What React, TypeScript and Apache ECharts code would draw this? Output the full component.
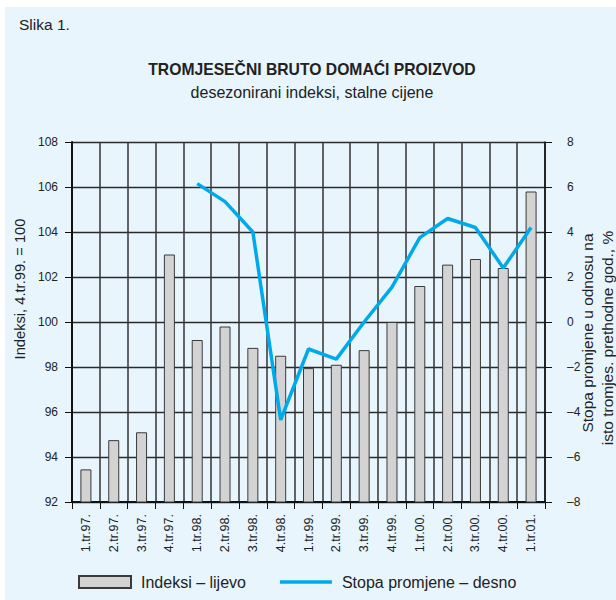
import React, { useEffect, useRef } from "react";
import * as echarts from "echarts";

const categories = [
  "1.tr.97.", "2.tr.97.", "3.tr.97.", "4.tr.97.",
  "1.tr.98.", "2.tr.98.", "3.tr.98.", "4.tr.98.",
  "1.tr.99.", "2.tr.99.", "3.tr.99.", "4.tr.99.",
  "1.tr.00.", "2.tr.00.", "3.tr.00.", "4.tr.00.",
  "1.tr.01.",
];

const indeksi = [
  93.45, 94.75, 95.1, 103.0,
  99.2, 99.8, 98.85, 98.5,
  97.95, 98.1, 98.75, 100.0,
  101.6, 102.55, 102.8, 102.4,
  105.8,
];

const stopa: (number | null)[] = [
  null, null, null, null,
  6.15, 5.35, 4.0, -4.35,
  -1.2, -1.65, 0.0, 1.55,
  3.75, 4.6, 4.2, 2.4,
  4.2,
];

const leftTicks = { min: 92, max: 108, interval: 2 };
const rightTicks = { min: -8, max: 8, interval: 2 };

const FONT = "'Liberation Sans', Arial, Helvetica, sans-serif";
const TEXT = "#222222";

export default function App() {
  const ref = useRef<HTMLDivElement>(null);

  useEffect(() => {
    if (!ref.current) return;
    const chart = echarts.init(ref.current, null, { renderer: "svg" });
    chart.setOption({
      animation: false,
      backgroundColor: "#ffffff",
      textStyle: { fontFamily: FONT, color: TEXT },
      graphic: [
        {
          type: "rect",
          z: -100,
          silent: true,
          shape: { x: 5, y: 7, width: 611, height: 593 },
          style: { fill: "#e8f5fd" },
        },
        {
          type: "text",
          x: 19,
          y: 24,
          style: {
            text: "Slika 1.",
            fontFamily: FONT,
            fontSize: 15.5,
            fill: TEXT,
            textAlign: "left",
            textVerticalAlign: "middle",
          },
        },
        {
          type: "text",
          x: 312,
          y: 69,
          style: {
            text: "TROMJESEČNI BRUTO DOMAĆI PROIZVOD",
            fontFamily: FONT,
            fontSize: 15.7,
            fontWeight: "bold",
            fill: TEXT,
            textAlign: "center",
            textVerticalAlign: "middle",
          },
        },
        {
          type: "text",
          x: 312,
          y: 92,
          style: {
            text: "desezonirani indeksi, stalne cijene",
            fontFamily: FONT,
            fontSize: 16,
            fill: TEXT,
            textAlign: "center",
            textVerticalAlign: "middle",
          },
        },
        {
          type: "text",
          x: 20,
          y: 289,
          rotation: Math.PI / 2,
          style: {
            text: "Indeksi, 4.tr.99. = 100",
            fontFamily: FONT,
            fontSize: 14.7,
            fill: TEXT,
            textAlign: "center",
            textVerticalAlign: "middle",
          },
        },
        {
          type: "text",
          x: 587,
          y: 333,
          rotation: Math.PI / 2,
          style: {
            text: "Stopa promjene u odnosu na",
            fontFamily: FONT,
            fontSize: 15.5,
            fill: TEXT,
            textAlign: "center",
            textVerticalAlign: "middle",
          },
        },
        {
          type: "text",
          x: 607,
          y: 338,
          rotation: Math.PI / 2,
          style: {
            text: "isto tromjes. prethodne god., %",
            fontFamily: FONT,
            fontSize: 15.5,
            fill: TEXT,
            textAlign: "center",
            textVerticalAlign: "middle",
          },
        },
      ],
      legend: {
        left: 73,
        top: 569,
        itemWidth: 52,
        itemHeight: 12,
        itemGap: 34,
        textStyle: {
          fontFamily: FONT,
          fontSize: 16,
          color: TEXT,
          padding: [0, 0, 0, 5],
        },
        data: [
          { name: "Indeksi – lijevo", icon: "rect" },
          { name: "Stopa promjene – desno", icon: "path://M0,0 L52,0 L52,3.5 L0,3.5 Z" },
        ],
      },
      grid: { left: 72, right: 71, top: 142, bottom: 98 },
      xAxis: {
        type: "category",
        data: categories,
        boundaryGap: true,
        axisLine: { show: true, onZero: false, lineStyle: { color: "#111", width: 2 } },
        axisTick: {
          show: true,
          interval: 0,
          length: 7,
          lineStyle: { color: "#111", width: 1 },
        },
        axisLabel: {
          interval: 0,
          rotate: 90,
          margin: 12,
          fontFamily: FONT,
          fontSize: 12.5,
          color: TEXT,
        },
        splitLine: {
          show: true,
          interval: 0,
          lineStyle: { color: "#333333", width: 1.5 },
        },
      },
      yAxis: [
        {
          type: "value",
          min: leftTicks.min,
          max: leftTicks.max,
          interval: leftTicks.interval,
          axisLine: { show: true, lineStyle: { color: "#111", width: 2 } },
          axisTick: { show: true, length: 7, lineStyle: { color: "#111", width: 1 } },
          axisLabel: {
            margin: 14,
            fontFamily: FONT,
            fontSize: 12,
            color: TEXT,
          },
          splitLine: {
            show: true,
            lineStyle: { color: "#2a2a2a", width: 1.3 },
          },
        },
        {
          type: "value",
          position: "right",
          min: rightTicks.min,
          max: rightTicks.max,
          interval: rightTicks.interval,
          axisLine: { show: true, lineStyle: { color: "#111", width: 1.5 } },
          axisTick: { show: true, length: 7, lineStyle: { color: "#111", width: 1 } },
          axisLabel: {
            margin: 22,
            align: "left",
            fontFamily: FONT,
            fontSize: 12,
            color: TEXT,
            formatter: (v: number) => String(v).replace("-", "–"),
          },
          splitLine: { show: false },
        },
      ],
      series: [
        {
          name: "Indeksi – lijevo",
          type: "bar",
          yAxisIndex: 0,
          barWidth: 11,
          data: indeksi,
          itemStyle: {
            color: "#d3d3d3",
            borderColor: "#3a3a3a",
            borderWidth: 1,
          },
          z: 3,
        },
        {
          name: "Stopa promjene – desno",
          type: "line",
          yAxisIndex: 1,
          data: stopa,
          symbol: "none",
          connectNulls: false,
          lineStyle: { color: "#00aaea", width: 3.5 },
          itemStyle: { color: "#00aaea" },
          z: 4,
        },
      ],
    });
    return () => chart.dispose();
  }, []);

  return (
    <div
      ref={ref}
      style={{ position: "absolute", left: 0, top: 0, width: 616, height: 600 }}
    />
  );
}
